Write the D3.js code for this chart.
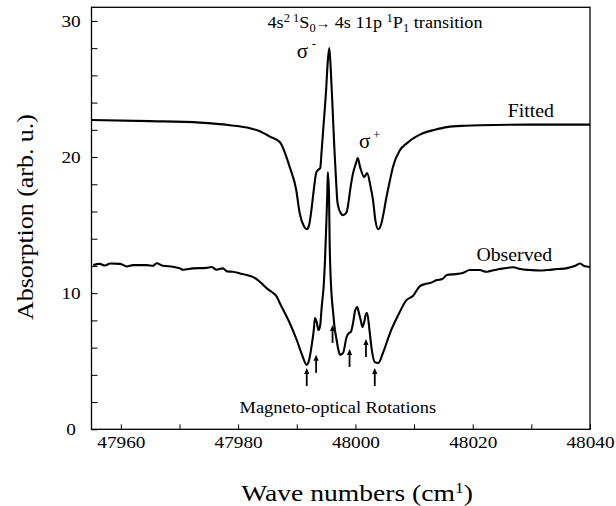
<!DOCTYPE html>
<html>
<head>
<meta charset="utf-8">
<script src="https://cdnjs.cloudflare.com/ajax/libs/d3/7.8.5/d3.min.js"></script>
<style>
body { margin: 0; background: #fff; }
svg { font-family: "Liberation Serif", "Times New Roman", serif; }
</style>
</head>
<body>
<div id="chart"></div>
<script>

// Data
// ==============================
var fittedX = [47955, 47965, 47973.5, 47978.6, 47982, 47983.7, 47985.4, 47987.1, 47988.8, 47989.9, 47990.5,
  47991.2, 47991.7, 47992.1, 47992.6, 47993.0, 47993.3, 47993.6, 47994.0, 47994.25, 47994.5, 47995.0,
  47995.3, 47995.55, 47995.8, 47996.1, 47996.4, 47996.7, 47996.9, 47997.1, 47997.5, 47997.9, 47998.5,
  47998.8, 47999.1, 47999.6, 48000.1, 48000.4, 48000.8, 48001.5, 48002.0, 48002.6, 48003.0, 48003.4,
  48003.9, 48004.4, 48004.9, 48005.2, 48005.9, 48006.4, 48007.6, 48008.8, 48010.2, 48011.5, 48013.6,
  48015.6, 48018.7, 48021.2, 48029.7, 48040];
var fittedY = [22.72, 22.64, 22.53, 22.34, 22.12, 21.9, 21.5, 21.1, 19.26, 17.6, 15.88,
  14.93, 14.7, 15.0, 16.47, 17.94, 18.82, 19.04, 19.19, 20.51, 21.97, 24.9,
  27.1, 28.0, 26.4, 23.66, 20.73, 18.31, 16.84, 16.32, 15.88, 15.73, 15.95,
  16.61, 17.57, 18.82, 19.55, 19.92, 19.26, 18.53, 18.82, 17.79, 16.84, 15.37,
  14.7, 15.08, 16.1, 16.84, 18.31, 19.27, 20.51, 21.02, 21.46, 21.75, 22.01,
  22.2, 22.3, 22.34, 22.38, 22.38];

var observedX = [47955.3, 47956.4, 47957.3, 47958.2, 47959.9, 47961.0, 47962.1, 47964.4, 47965.5, 47966.1,
  47967.2, 47968.9, 47970.1, 47970.6, 47972.3, 47974.6, 47975.5, 47976.3, 47977.4, 47978.1, 47979.1,
  47980.3, 47981.5, 47982.5, 47983.7, 47984.9, 47985.7, 47986.6, 47987.1, 47988.8, 47990.0, 47990.9,
  47991.7, 47992.1, 47992.5, 47992.9, 47993.1, 47993.4, 47993.7, 47994.0, 47994.25, 47994.6, 47994.8,
  47995.0, 47995.2, 47995.3, 47995.5, 47995.6, 47995.8, 47996.0, 47996.2, 47996.4, 47996.8, 47997.1,
  47997.4, 47997.9, 47998.5, 47998.9, 47999.2, 47999.6, 47999.9, 48000.3, 48000.6, 48000.9, 48001.2,
  48001.5, 48001.8, 48002.0, 48002.4, 48002.8, 48003.3, 48003.9, 48004.7, 48005.9, 48007.3, 48008.7,
  48009.8, 48011.0, 48011.9, 48012.7, 48013.9, 48014.8, 48015.6, 48017.0, 48018.3, 48019.5, 48021.2,
  48022.3, 48022.9, 48024.6, 48026.9, 48028.1, 48029.8, 48031.5, 48032.7, 48034.4, 48036.1, 48037.4,
  48038.3, 48039.0, 48040];
var observedY = [12.06, 12.15, 12.03, 12.18, 12.15, 11.96, 12.06, 12.06, 12.01, 12.2,
  12.01, 11.94, 11.82, 11.72, 11.82, 11.86, 11.92, 11.72, 11.82, 11.6, 11.57,
  11.45, 11.33, 11.2, 10.84, 10.35, 10.1, 9.74, 9.28, 7.81, 6.56, 5.47,
  4.73, 5.09, 6.04, 7.29, 8.17, 7.88, 7.29, 7.66, 8.98, 10.6, 12.28,
  14.63, 17.2, 18.9, 17.2, 13.9, 10.96, 9.49, 8.61, 7.66, 6.56, 5.82,
  5.47, 5.61, 6.78, 7.07, 7.14, 7.81, 8.61, 8.98, 8.54, 8.03, 7.51,
  7.88, 8.47, 8.54, 7.29, 5.82, 4.94, 4.87, 5.61, 7.07, 8.39, 9.49,
  9.79, 10.52, 10.67, 10.74, 10.96, 11.04, 11.33, 11.4, 11.48, 11.7, 11.7,
  11.57, 11.62, 11.77, 11.9, 11.77, 11.7, 11.66, 11.7, 11.77, 11.84, 11.99,
  12.18, 11.99, 11.92];

// Magneto-optical rotation markers (arrow tip positions)
var arrowX = [47991.7, 47993.3, 47996.1, 47999.0, 48001.8, 48003.3];
var arrowY = [4.5, 5.47, 7.67, 5.9, 6.64, 4.5];

var xTicks = [47960, 47980, 48000, 48020, 48040];
var xMinorTicks = [47960, 47970, 47980, 47990, 48000, 48010, 48020, 48030, 48040];
var yTicks = [0, 10, 20, 30];
var yMinorTicks = [0, 2, 4, 6, 8, 10, 12, 14, 16, 18, 20, 22, 24, 26, 28, 30];

// Set chart parameters
// ==============================
var svgWidth = 616;
var svgHeight = 506;

var margin = {
  top: 7.3,
  right: 26,
  bottom: 76.7,
  left: 91.5
};

var width = svgWidth - margin.left - margin.right;
var height = svgHeight - margin.top - margin.bottom;

var svg = d3.select("#chart")
  .append("svg")
  .attr("width", svgWidth)
  .attr("height", svgHeight);

var chartGroup = svg.append("g")
  .attr("transform", `translate(${margin.left}, ${margin.top})`);

// the original lettering is a little wider than Liberation Serif
function addText(x, y, size, anchor, sx, rotate) {
  return chartGroup.append("g")
    .attr("transform", `translate(${x}, ${y})` + (rotate ? " rotate(-90)" : "") + ` scale(${sx}, 1)`)
    .append("text")
    .attr("text-anchor", anchor)
    .attr("font-size", size)
    .attr("fill", "#000");
}

// Scales
// ==============================
var xScale = d3.scaleLinear()
  .domain([47955, 48040])
  .range([0, width]);

var yScale = d3.scaleLinear()
  .domain([0, 31])
  .range([height, 0]);

// Axes (ticks point inward)
// ==============================
var bottomAxis = d3.axisBottom(xScale)
  .tickValues(xMinorTicks)
  .tickSize(-5)
  .tickPadding(6.5)
  .tickFormat(d => xTicks.indexOf(d) >= 0 ? d3.format("d")(d) : "");

var leftAxis = d3.axisLeft(yScale)
  .tickValues(yMinorTicks)
  .tickSize(-6)
  .tickFormat(d => yTicks.indexOf(d) >= 0 ? d : "");

var xAxisG = chartGroup.append("g")
  .attr("transform", `translate(0, ${height})`)
  .call(bottomAxis);

var yAxisG = chartGroup.append("g")
  .call(leftAxis);

[xAxisG, yAxisG].forEach(function(g) {
  g.select(".domain").remove();
  g.selectAll("line").attr("stroke", "#000").attr("stroke-width", 1);
  g.selectAll("text")
    .attr("font-family", "Liberation Serif, serif")
    .attr("font-size", 17.5)
    .attr("fill", "#000")
    .attr("transform", "scale(1.1, 1)");
});
yAxisG.selectAll("text")
  .attr("text-anchor", "middle")
  .attr("x", (71 - margin.left) / 1.1);

// frame
chartGroup.append("rect")
  .attr("width", width)
  .attr("height", height)
  .attr("fill", "none")
  .attr("stroke", "#000")
  .attr("stroke-width", 1.3);

// Curves
// ==============================
var line = d3.line()
  .x(d => xScale(d[0]))
  .y(d => yScale(d[1]))
  .curve(d3.curveMonotoneX);

var fitted = fittedX.map((x, i) => [x, fittedY[i]]);
var observed = observedX.map((x, i) => [x, observedY[i]]);

chartGroup.append("path")
  .datum(fitted)
  .attr("d", line)
  .attr("fill", "none")
  .attr("stroke", "#000")
  .attr("stroke-width", 2.1);

chartGroup.append("path")
  .datum(observed)
  .attr("d", line)
  .attr("fill", "none")
  .attr("stroke", "#000")
  .attr("stroke-width", 2.1);

// Arrows
// ==============================
var arrows = chartGroup.selectAll(".arrow")
  .data(arrowX.map((x, i) => [x, arrowY[i]]))
  .enter()
  .append("g")
  .attr("class", "arrow")
  .attr("transform", d => `translate(${xScale(d[0])}, ${yScale(d[1])})`);

arrows.append("line")
  .attr("y1", 4)
  .attr("y2", 18)
  .attr("stroke", "#000")
  .attr("stroke-width", 1.8);

arrows.append("path")
  .attr("d", "M0,0 L-2.6,6 L2.6,6 Z")
  .attr("fill", "#000");

// Annotations
// ==============================
var title = addText(375 - margin.left, 28 - margin.top, 17.5, "middle", 1.04);
title.append("tspan").text("4s");
title.append("tspan").attr("dy", -6).attr("font-size", 12).text("2 1");
title.append("tspan").attr("dy", 6).text("S");
title.append("tspan").attr("dy", 3.5).attr("font-size", 12).text("0");
title.append("tspan").attr("dy", -3.5).attr("font-size", 14).text("\u2192");
title.append("tspan").text(" 4s 11p ");
title.append("tspan").attr("dy", -6).attr("font-size", 12).text("1");
title.append("tspan").attr("dy", 6).text("P");
title.append("tspan").attr("dy", 3.5).attr("font-size", 12).text("1");
title.append("tspan").attr("dy", -3.5).text("  transition");

var sigMinus = addText(xScale(47990.0), yScale(27.27), 21, "start", 1);
sigMinus.append("tspan").text("\u03c3");
sigMinus.append("tspan").attr("dx", 4).attr("dy", -10).attr("font-size", 12).text("-");

var sigPlus = addText(xScale(48000.6), yScale(20.65), 21, "start", 1);
sigPlus.append("tspan").text("\u03c3");
sigPlus.append("tspan").attr("dx", 3).attr("dy", -9).attr("font-size", 12).text("+");

addText(xScale(48029.9), yScale(22.38) - 8, 18, "middle", 1.1)
  .text("Fitted");

addText(xScale(48027.1), yScale(12.1) - 3.5, 18, "middle", 1.1)
  .text("Observed");

addText(xScale(47997.0), 413 - margin.top, 17.5, "middle", 1.05)
  .text("Magneto-optical Rotations");

// Axis labels
// ==============================
addText(33 - margin.left, 217 - margin.top, 24, "middle", 1.08, true)
  .text("Absorption (arb. u.)");

var xLabel = addText(357 - margin.left, 501 - margin.top, 24, "middle", 1.15);
xLabel.append("tspan").text("Wave numbers (cm");
xLabel.append("tspan").attr("dy", -8).attr("font-size", 15).text("1");
xLabel.append("tspan").attr("dy", 8).text(")");

</script>
</body>
</html>
